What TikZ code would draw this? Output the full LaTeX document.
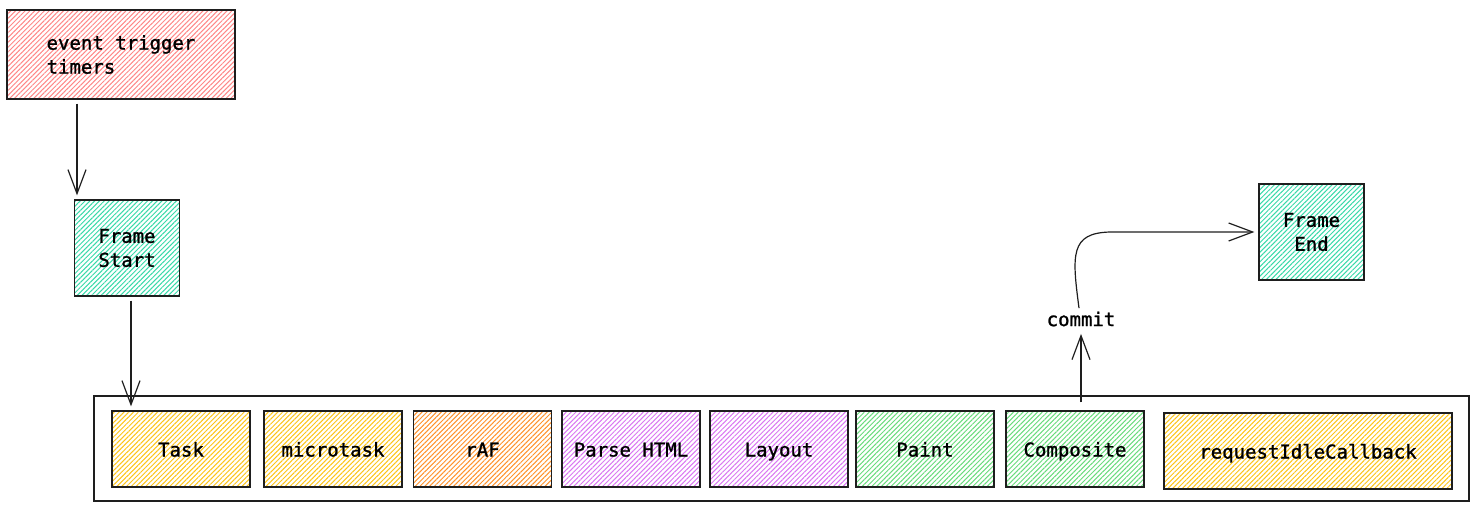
\documentclass[tikz,border=0pt]{standalone}
\usepackage{fontspec}
\newfontfamily\codefont[FakeBold=1.2]{DejaVu Sans Mono}
\usetikzlibrary{positioning,arrows.meta,calc,patterns.meta}

\definecolor{hatchred}{HTML}{FF8787}
\definecolor{hatchteal}{HTML}{38D9A9}
\definecolor{hatchyellow}{HTML}{FCC419}
\definecolor{hatchorange}{HTML}{FF922B}
\definecolor{hatchgrape}{HTML}{DA77F2}
\definecolor{hatchgreen}{HTML}{69DB7C}
\definecolor{ink}{HTML}{1E1E1E}

\begin{document}
\begin{tikzpicture}[
    x=1pt, y=-1pt,
    font=\codefont\fontsize{19}{24}\selectfont,
    box/.style={draw=ink, line width=1.3pt, align=center, minimum width=138pt, minimum height=76pt, inner sep=0pt,
        pattern={Lines[angle=45, distance=3.4pt, line width=1pt]}, pattern color=#1},
    stage/.style={box=#1, text height=17pt, text depth=2pt},
    frame/.style={box=hatchteal, minimum width=105pt, minimum height=96pt},
    arrow/.style={-{Straight Barb[length=24pt, width=18pt, line width=1.2pt]}, line width=1.2pt, ink}
]
\useasboundingbox (0,0) rectangle (1479,512);

% event source and frame start
\node[box=hatchred, minimum width=228pt, minimum height=89pt, align=left] (event) at (121,54.5) {event trigger\\timers};
\node[frame] (fstart) at (127,248) {Frame\\Start};

% the frame
\node[draw=ink, line width=1.3pt, minimum width=1375pt, minimum height=105pt] (frm) at (781.5,448.5) {};
\node[stage=hatchyellow] (task) at (181,449) {Task};
\node[stage=hatchyellow] (micro) at (333,449) {microtask};
\node[stage=hatchorange] (raf) at (482.5,449) {rAF};
\node[stage=hatchgrape] (parse) at (631,449) {Parse HTML};
\node[stage=hatchgrape] (layout) at (779,449) {Layout};
\node[stage=hatchgreen] (paint) at (925,449) {Paint};
\node[stage=hatchgreen] (comp) at (1075,449) {Composite};
\node[stage=hatchyellow, minimum width=288pt] (ric) at (1308,451) {requestIdleCallback};

% commit and frame end
\node (cmt) at (1081,319) {commit};
\node[frame] (fend) at (1311.5,232) {Frame\\End};
\coordinate (bend) at (1110,232);

\draw[arrow] ([xshift=-44pt, yshift=-4pt]event.south) -- ([xshift=-44pt, yshift=4pt]event.south |- fstart.north);
\draw[arrow] ([xshift=4pt, yshift=-4pt]fstart.south) -- ([xshift=4pt, yshift=4pt]fstart.south |- task.north);
\draw[arrow] ([yshift=8pt]comp.north -| cmt) -- ([yshift=-4pt]cmt.south);
\draw[arrow] ([xshift=-2pt]cmt.north) .. controls (1072,255) and (1070,233) .. (bend) -- ([xshift=-4pt]fend.west);
\end{tikzpicture}
\end{document}
